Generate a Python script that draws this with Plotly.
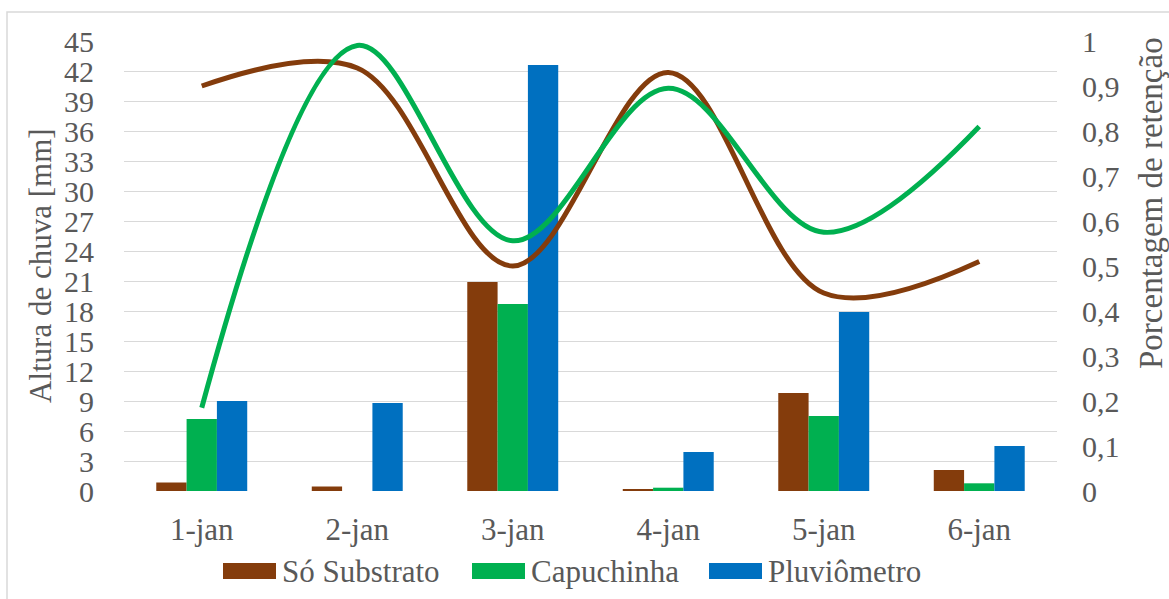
import plotly.graph_objects as go

# ---- data ----
categories = ["1-jan", "2-jan", "3-jan", "4-jan", "5-jan", "6-jan"]
so_substrato_mm = [0.85, 0.45, 20.9, 0.2, 9.8, 2.1]
capuchinha_mm = [7.2, 0.0, 18.7, 0.33, 7.5, 0.77]
pluviometro_mm = [9.0, 8.8, 42.6, 3.9, 17.9, 4.5]
ret_so_substrato = [0.90, 0.94, 0.50, 0.93, 0.44, 0.51]
ret_capuchinha = [0.185, 0.99, 0.556, 0.895, 0.575, 0.81]

left_ticks = list(range(0, 46, 3))
right_tickvals = [0, 0.1, 0.2, 0.3, 0.4, 0.5, 0.6, 0.7, 0.8, 0.9, 1]
right_ticktext = ["0", "0,1", "0,2", "0,3", "0,4", "0,5", "0,6", "0,7", "0,8", "0,9", "1"]

series_names = ["Só Substrato", "Capuchinha", "Pluviômetro"]
C_BROWN = "#843C0C"
C_GREEN = "#00B050"
C_BLUE = "#0070C0"
TXT = "#595959"
FONT = "Liberation Serif"

W, H = 1169, 599
L, R, T, B = 124, 1057, 41, 491  # plot area in pixels


def px_x(x):
    return (x - L) / (R - L)


def px_y(y):
    return (B - y) / (B - T)


fig = go.Figure()
for name, vals, col in zip(series_names,
                           [so_substrato_mm, capuchinha_mm, pluviometro_mm],
                           [C_BROWN, C_GREEN, C_BLUE]):
    fig.add_trace(go.Bar(x=categories, y=vals, name=name, marker_color=col,
                         marker_line_width=0, showlegend=False, yaxis="y"))

for vals, col in [(ret_so_substrato, C_BROWN), (ret_capuchinha, C_GREEN)]:
    fig.add_trace(go.Scatter(x=categories, y=vals, mode="lines",
                             line=dict(color=col, width=5, shape="spline", smoothing=1.0),
                             showlegend=False, yaxis="y2"))

shapes = []
# chart area border (only top and left visible)
shapes.append(dict(type="rect", xref="paper", yref="paper",
                   x0=px_x(7), x1=px_x(1200), y0=px_y(630), y1=px_y(12),
                   line=dict(color="#D9D9D9", width=1.5), fillcolor="rgba(0,0,0,0)", layer="below"))

annotations = []
# manual legend
legend_items = [(223, 276, 280, series_names[0], C_BROWN),
                (472, 525, 529, series_names[1], C_GREEN),
                (709, 762, 766, series_names[2], C_BLUE)]
for x0, x1, tx, name, col in legend_items:
    shapes.append(dict(type="rect", xref="paper", yref="paper",
                       x0=px_x(x0), x1=px_x(x1), y0=px_y(579), y1=px_y(563),
                       fillcolor=col, line=dict(width=0)))
    annotations.append(dict(xref="paper", yref="paper", x=px_x(tx), y=px_y(571),
                            xanchor="left", yanchor="middle", showarrow=False,
                            text=name, font=dict(family=FONT, size=31, color=TXT)))

annotations.append(dict(xref="paper", yref="paper", x=px_x(40), y=px_y(266),
                        xanchor="center", yanchor="middle", showarrow=False, textangle=-90,
                        text="Altura de chuva [mm]", font=dict(family=FONT, size=31, color=TXT)))
annotations.append(dict(xref="paper", yref="paper", x=px_x(1151), y=px_y(203),
                        xanchor="center", yanchor="middle", showarrow=False, textangle=-90,
                        text="Porcentagem de retenção", font=dict(family=FONT, size=33, color=TXT)))

fig.update_layout(
    width=W, height=H,
    margin=dict(l=L, r=W - R, t=T, b=H - B, pad=0),
    paper_bgcolor="white", plot_bgcolor="white",
    barmode="group", bargap=0.415, bargroupgap=0,
    font=dict(family=FONT, size=30, color=TXT),
    xaxis=dict(type="category", showgrid=False, zeroline=False, showline=False,
               ticks="", ticklabelstandoff=17,
               tickfont=dict(family=FONT, size=31, color=TXT)),
    yaxis=dict(range=[0, 45], tickvals=left_ticks, showgrid=True, gridcolor="#D9D9D9",
               gridwidth=1, zeroline=False, showline=False, ticks="",
               ticklabelstandoff=29, tickfont=dict(family=FONT, size=30, color=TXT)),
    yaxis2=dict(range=[0, 1], overlaying="y", side="right", tickvals=right_tickvals,
                ticktext=right_ticktext, showgrid=False, zeroline=False, showline=False,
                ticks="", ticklabelstandoff=24,
                tickfont=dict(family=FONT, size=30, color=TXT)),
    shapes=shapes, annotations=annotations, showlegend=False,
)

fig.write_html("out.html")
